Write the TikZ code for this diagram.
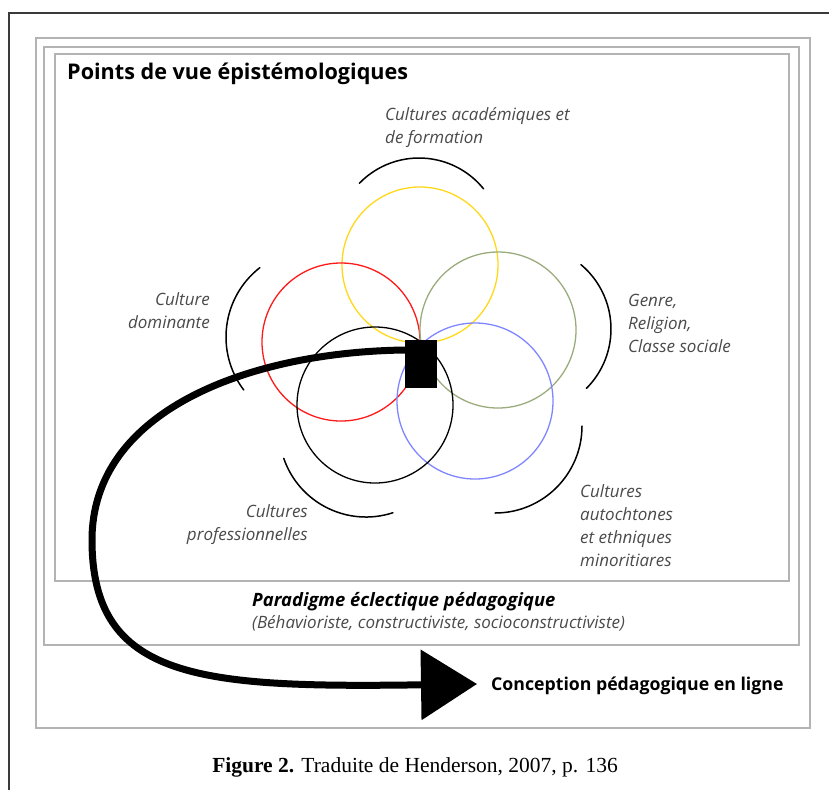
\documentclass[tikz,border=0pt]{standalone}
\usepackage{fontspec}
\setmainfont{Open Sans}
\newfontfamily\capfont{Liberation Serif}
\usetikzlibrary{arrows.meta}
\definecolor{framegray}{HTML}{B3B3B3}
\definecolor{edgedark}{HTML}{3A3A3A}
\definecolor{labelgray}{HTML}{4A4A4A}
\definecolor{ringyellow}{HTML}{FFD81A}
\definecolor{ringred}{HTML}{FF1A1A}
\definecolor{ringgreen}{HTML}{9AAB7C}
\definecolor{ringblue}{HTML}{7F86FF}
\tikzset{
  frame/.style={draw=framegray, line width=2.5pt},
  ring/.style={line width=1.3pt},
  brace/.style={line width=1.5pt, line cap=round},
  lbl/.style={font=\fontsize{17}{23}\selectfont\itshape, text=labelgray, inner sep=0pt},
  bigarrow/.style={line width=7pt, -{Triangle[length=56pt,width=69pt]}},
}
\begin{document}
\begin{tikzpicture}[x=1pt,y=-1pt]
				\useasboundingbox (0,0) rectangle (829,790);
				% page edge and frames
				\draw[edgedark, line width=1.2pt] (9,790) -- (9,13) -- (829,13);
				\draw[frame] (36,38) rectangle (810,728);
				\draw[frame] (44,47) rectangle (799,645);
				\draw[frame] (55,54) rectangle (789,581);
				\node[anchor=base west, inner sep=0pt, font=\fontsize{21.6}{24}\selectfont\bfseries] (title) at (67,79) {Points de vue épistémologiques};
				% circles
				\draw[ring, ringyellow] (420,265) circle[radius=78];
				\draw[ring, ringred] (341,342) circle[radius=79];
				\draw[ring, ringgreen] (498,330) circle[radius=78];
				\draw[ring, ringblue] (475,401) circle[radius=78];
				\draw[ring, black] (375,405) circle[radius=78];
				% outer arcs
				\draw[brace] (419,241) ++(-136:83) arc (-136:-39:83);
				\draw[brace] (527,329) ++(-50:84) arc (-50:45:84);
				\draw[brace] (495,426) ++(0:87) arc (0:90:87);
				\draw[brace] (366,430) ++(72:87) arc (72:161:87);
				\draw[brace] (314,337) ++(143:88) arc (143:232:88);
				% labels
				\node[lbl, anchor=west, align=left] (acad) at (385,128) {Cultures académiques et\\de formation};
				\node[lbl, anchor=east, align=right] (domin) at (210,311) {Culture\\dominante};
				\node[lbl, anchor=west, align=left] (genre) at (628,323) {Genre,\\Religion,\\Classe sociale};
				\node[lbl, anchor=east, align=right] (prof) at (308,525) {Cultures\\professionnelles};
				\node[lbl, anchor=west, align=left] (autoch) at (580,526) {Cultures\\autochtones\\et ethniques\\minoritiares};
				\node[anchor=west, inner sep=0pt, font=\fontsize{18.4}{20}\selectfont\bfseries\itshape] (parad) at (252,602) {Paradigme éclectique pédagogique};
				\node[lbl, anchor=west] (paradsub) at (252,623) {(Béhavioriste, constructiviste, socioconstructiviste)};
				\node[anchor=west, inner sep=0pt, font=\fontsize{17.7}{20}\selectfont\bfseries] (conc) at (491,686) {Conception pédagogique en ligne};
				% arrow from the core
				\node[fill=black, inner sep=0pt, minimum width=32pt, minimum height=48pt] (core) at (421,364) {};
				\coordinate (tip) at (477,684);
				\draw[bigarrow] ([yshift=14pt]core.west) .. controls (250,352) and (92,410) .. (92,540)
					.. controls (92,680) and (200,688) .. (tip);
				\node[font=\capfont\fontsize{21.5}{24}\selectfont] (caption) at (415,767) {\textbf{Figure 2.} Traduite de Henderson, 2007, p. 136};
\end{tikzpicture}
\end{document}
